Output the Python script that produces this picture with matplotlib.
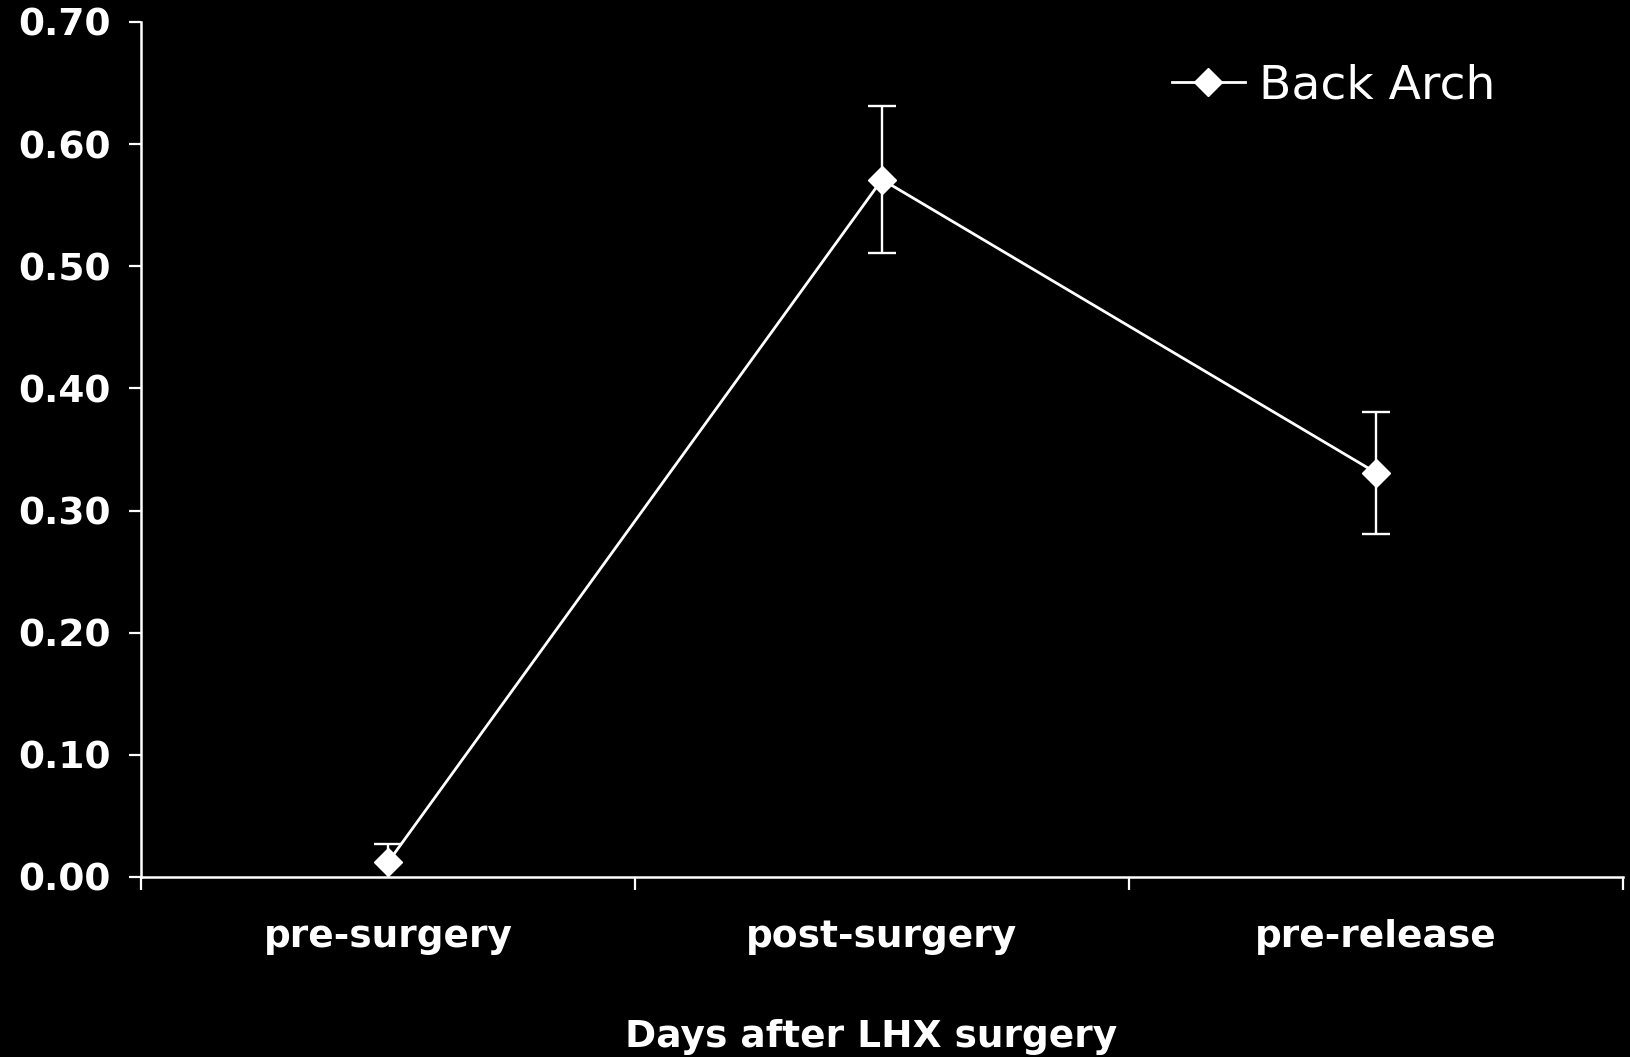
import matplotlib
matplotlib.use("Agg")
import matplotlib.pyplot as plt
from matplotlib.lines import Line2D
from matplotlib.ticker import FixedLocator, NullFormatter, FixedFormatter

# Back arch scores across the three recording phases
categories = ["pre-surgery", "post-surgery", "pre-release"]
back_arch = [0.012, 0.571, 0.331]
back_arch_err = [0.015, 0.060, 0.050]
y_ticks = [0.0, 0.1, 0.2, 0.3, 0.4, 0.5, 0.6, 0.7]
series_name = "Back Arch"
x_title = "Days after LHX surgery"

plt.rcParams["font.family"] = ["DejaVu Sans"]

fig = plt.figure(figsize=(16.30, 10.57), dpi=100, facecolor="black")
ax = fig.add_axes([0.0865, 0.1703, 0.9092, 0.8089], facecolor="black")

xpos = [i + 0.5 for i in range(len(categories))]
ax.errorbar(xpos, back_arch, yerr=back_arch_err, color="white", lw=2.0,
            marker="D", markersize=14, markerfacecolor="white",
            markeredgecolor="white", ecolor="white", elinewidth=1.7,
            capsize=10, capthick=1.7, zorder=3)

ax.set_xlim(0, len(categories))
ax.set_ylim(0, 0.7)

ax.xaxis.set_major_locator(FixedLocator(range(len(categories) + 1)))
ax.xaxis.set_major_formatter(NullFormatter())
ax.xaxis.set_minor_locator(FixedLocator(xpos))
ax.xaxis.set_minor_formatter(FixedFormatter(categories))
ax.tick_params(axis="x", which="major", direction="out", length=9, width=1.6,
               color="white")
ax.tick_params(axis="x", which="minor", length=0, pad=30, labelsize=27,
               labelcolor="white")
for lbl in ax.get_xticklabels(minor=True):
    lbl.set_fontweight("bold")

ax.set_yticks(y_ticks)
ax.set_yticklabels([f"{v:.2f}" for v in y_ticks], fontsize=27,
                   fontweight="bold", color="white")
ax.tick_params(axis="y", direction="out", length=9, width=1.6, color="white",
               pad=13)

for side in ("top", "right"):
    ax.spines[side].set_visible(False)
for side in ("left", "bottom"):
    ax.spines[side].set_color("white")
    ax.spines[side].set_linewidth(1.8)

ax.set_xlabel(x_title, fontsize=27, fontweight="bold", color="white",
              labelpad=46, x=0.493)

handle = Line2D([], [], color="white", lw=2.0, marker="D", markersize=14,
                markerfacecolor="white", markeredgecolor="white")
leg = ax.legend([handle], [series_name], loc="center left",
                bbox_to_anchor=(0.6955, 0.925), frameon=False, fontsize=34,
                handlelength=1.55, handletextpad=0.3, borderpad=0,
                borderaxespad=0)
for t in leg.get_texts():
    t.set_color("white")

fig.savefig("out.png", dpi=100, facecolor="black")
